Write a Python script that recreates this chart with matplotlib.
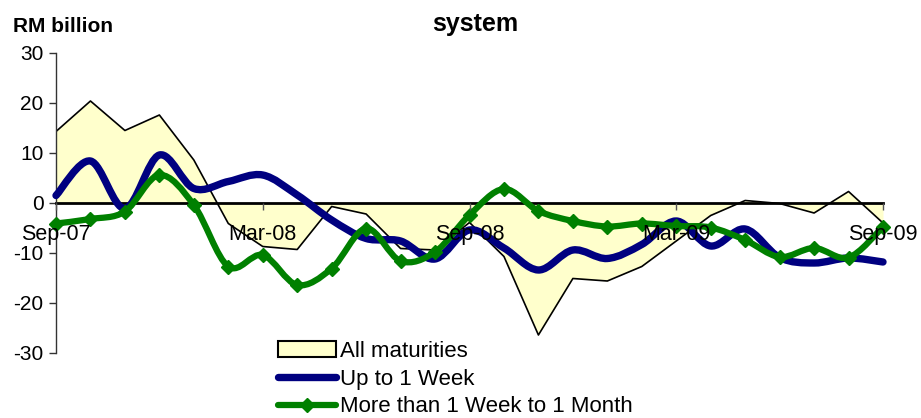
import numpy as np
import matplotlib
matplotlib.use("Agg")
import matplotlib.pyplot as plt
from matplotlib.path import Path
from matplotlib.patches import PathPatch, Patch
from matplotlib.lines import Line2D

plt.rcParams["font.family"] = ["Liberation Sans", "DejaVu Sans"]
plt.rcParams["axes.unicode_minus"] = False

# monthly, Sep-07 .. Sep-09 (RM billion)
tick_idx = [0, 6, 12, 18, 24]
tick_labels = ["Sep-07", "Mar-08", "Sep-08", "Mar-09", "Sep-09"]

all_maturities = [14.3, 20.4, 14.5, 17.6, 8.6, -4.1, -8.7, -9.3, -0.7, -2.2,
                  -9.1, -9.4, -3.9, -10.7, -26.4, -15.1, -15.6, -12.7, -7.6,
                  -2.5, 0.5, -0.1, -2.0, 2.3, -4.0]
up_to_1w = [1.5, 8.4, -1.1, 9.6, 2.9, 4.3, 5.6, 1.6, -3.4, -7.1,
            -7.6, -11.2, -5.4, -9.0, -13.4, -9.4, -11.1, -8.3, -3.6,
            -8.6, -5.2, -10.9, -12.0, -11.0, -11.8]
w1_to_1m = [-4.1, -3.2, -1.7, 5.6, -0.4, -12.7, -10.4, -16.4, -13.1, -5.1,
            -11.6, -9.8, -2.4, 2.8, -1.6, -3.6, -4.7, -4.1, -4.6,
            -4.9, -7.4, -10.8, -9.0, -10.9, -4.8]

FILL = "#FFFFCC"
NAVY = "#000080"
GREEN = "#008000"


def smooth_path(x, y):
    """Catmull-Rom style bezier through the points (like Excel's smoothed line)."""
    p = np.column_stack([x, y]).astype(float)
    n = len(p)
    verts = [p[0]]
    codes = [Path.MOVETO]
    for i in range(n - 1):
        p0 = p[i - 1] if i > 0 else p[i]
        p3 = p[i + 2] if i + 2 < n else p[i + 1]
        c1 = p[i] + (p[i + 1] - p0) / 6.0
        c2 = p[i + 1] - (p3 - p[i]) / 6.0
        verts += [c1, c2, p[i + 1]]
        codes += [Path.CURVE4] * 3
    return Path(verts, codes)


x = np.arange(len(all_maturities))

fig = plt.figure(figsize=(9.21, 4.18), dpi=100)
ax = fig.add_axes([56 / 921, 65 / 418, 827 / 921, 300 / 418])

ax.fill_between(x, 0, all_maturities, color=FILL, lw=0, zorder=1)
ax.plot(x, all_maturities, color="black", lw=1.2, zorder=1.2)

ax.add_patch(PathPatch(smooth_path(x, up_to_1w), fc="none", ec=NAVY,
                       lw=5.3, capstyle="round", joinstyle="round",
                       zorder=3, clip_on=False))
ax.add_patch(PathPatch(smooth_path(x, w1_to_1m), fc="none", ec=GREEN,
                       lw=4.5, capstyle="round", joinstyle="round",
                       zorder=4, clip_on=False))
ax.plot(x, w1_to_1m, ls="none", marker="D", ms=7, color=GREEN,
        zorder=4.5, clip_on=False)

ax.set_xlim(0, 24)
ax.set_ylim(-30, 30)
ax.set_yticks(range(-30, 31, 10))
ax.set_xticks(tick_idx)
ax.set_xticklabels(tick_labels)

for s in ["top", "right"]:
    ax.spines[s].set_visible(False)
ax.spines["left"].set_linewidth(1.0)
ax.spines["left"].set_color("#333333")
ax.spines["bottom"].set_position(("data", 0))
ax.spines["bottom"].set_linewidth(2)
ax.spines["bottom"].set_zorder(2)

ax.tick_params(axis="y", direction="out", length=5, width=1, color="#333333",
               labelsize=15, pad=4)
ax.tick_params(axis="x", direction="out", length=5, width=1, color="#555555",
               labelsize=15.5, pad=10)
ax.xaxis.set_zorder(6)

fig.text(13 / 921, 1 - 27 / 418, "RM billion", fontsize=15, fontweight="bold",
         ha="left", va="center")
fig.text(475 / 921, 1 - 24 / 418, "system", fontsize=18, fontweight="bold",
         ha="center", va="center")

handles = [
    Patch(facecolor=FILL, edgecolor="black", lw=1.5),
    Line2D([], [], color=NAVY, lw=5.3, solid_capstyle="round"),
    Line2D([], [], color=GREEN, lw=4.5, marker="D", ms=7,
           solid_capstyle="round"),
]
labels = ["All maturities", "Up to 1 Week", "More than 1 Week to 1 Month"]
fig.legend(handles, labels, loc="upper left",
           bbox_to_anchor=(278 / 921, 1 - 341 / 418), frameon=False,
           fontsize=16, handlelength=2.6, handletextpad=0.2,
           labelspacing=0.3, borderpad=0, borderaxespad=0)

fig.savefig("out.png", dpi=100)
